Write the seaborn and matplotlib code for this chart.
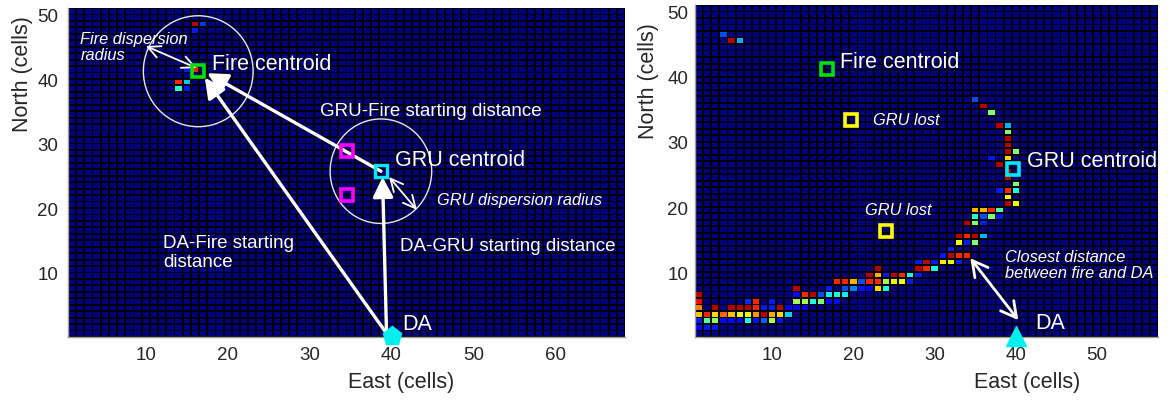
import numpy as np
import pandas as pd
import matplotlib
matplotlib.use("Agg")
import matplotlib.pyplot as plt
import seaborn as sns
from matplotlib.patches import Ellipse

# ---------------- data ----------------
left_n_east, left_n_north = 68, 51
right_n_east, right_n_north = 57, 51

east_ticks_left = [10, 20, 30, 40, 50, 60]
east_ticks_right = [10, 20, 30, 40, 50]
north_ticks = [10, 20, 30, 40, 50]

# burning cells (left panel: starting situation)
left_fire_east  = [16, 17, 16, 15, 16, 14, 15, 14, 15]
left_fire_north = [49, 49, 48, 42, 42, 40, 40, 39, 39]
left_fire_level = [0.95, 0.18, 0.15, 0.15, 0.87, 0.87, 0.32, 0.40, 0.15]

# burning cells (right panel: end of run)
right_fire_east = [
    1, 1, 1, 1, 1, 1, 2, 2, 2, 3, 3, 3, 3, 4, 4, 5, 5, 5, 6, 6, 6,
    7, 7, 7, 7, 8, 8, 8, 8, 9, 9, 9, 10, 10, 10, 10, 11, 11, 11, 12, 12,
    13, 13, 13, 13, 14, 14, 14, 15, 15, 16, 16, 17, 17, 17, 18, 18, 18,
    19, 19, 19, 20, 20, 21, 21, 22, 22, 22, 23, 23, 23, 23, 24, 24, 24,
    25, 25, 26, 26, 27, 27, 28, 28, 28, 29, 29, 30, 30, 31, 31,
    32, 32, 32, 33, 33, 33, 33, 34, 34, 34, 34,
    35, 35, 35, 35, 35, 35, 36, 36, 36, 36, 36, 37, 37, 37, 37,
    38, 38, 38, 38, 38,
    39, 39, 39, 39, 39, 39, 39, 39, 39, 39, 39,
    40, 40, 40, 40,
    4, 5, 6,
]
right_fire_north = [
    7, 6, 5, 4, 3, 2, 4, 3, 2, 5, 4, 3, 2, 4, 3, 5, 4, 3, 5, 4, 3,
    6, 5, 4, 3, 6, 5, 4, 3, 5, 4, 3, 6, 5, 4, 3, 5, 4, 3, 5, 4,
    8, 7, 6, 5, 7, 6, 5, 7, 6, 7, 6, 8, 7, 6, 9, 7, 6,
    9, 8, 7, 9, 8, 9, 8, 10, 9, 8, 11, 10, 9, 8, 10, 9, 8,
    10, 9, 10, 9, 10, 9, 12, 11, 10, 12, 11, 12, 11, 13, 12,
    14, 13, 12, 16, 15, 13, 12, 18, 16, 15, 13,
    37, 20, 19, 18, 16, 15, 36, 20, 19, 18, 16, 35, 28, 20, 19,
    33, 27, 23, 20, 19,
    33, 32, 31, 30, 29, 28, 26, 25, 23, 22, 21,
    29, 24, 23, 21,
    47, 46, 46,
]
right_fire_level = [
    0.95, 0.90, 0.78, 0.70, 0.15, 0.13, 0.87, 0.45, 0.15, 0.95, 0.68, 0.52, 0.15,
    0.80, 0.13, 0.95, 0.70, 0.13, 0.95, 0.63, 0.12,
    0.17, 0.95, 0.63, 0.38, 0.87, 0.87, 0.75, 0.14, 0.15, 0.95, 0.22,
    0.15, 0.15, 0.73, 0.55, 0.95, 0.68, 0.14, 0.13, 0.33,
    0.95, 0.13, 0.55, 0.13, 0.87, 0.55, 0.13, 0.95, 0.38, 0.20, 0.50,
    0.15, 0.36, 0.13, 0.87, 0.38, 0.13,
    0.87, 0.20, 0.36, 0.72, 0.25, 0.20, 0.14, 0.95, 0.87, 0.13,
    0.95, 0.72, 0.87, 0.68, 0.15, 0.55, 0.38,
    0.95, 0.63, 0.87, 0.63, 0.38, 0.15, 0.15, 0.95, 0.15, 0.95, 0.87,
    0.15, 0.38, 0.15, 0.66,
    0.15, 0.95, 0.63, 0.95, 0.63, 0.87, 0.15, 0.95, 0.87, 0.15, 0.87,
    0.20, 0.72, 0.38, 0.50, 0.95, 0.50, 0.95, 0.72, 0.20, 0.15, 0.30,
    0.50, 0.15, 0.87, 0.50,
    0.95, 0.95, 0.15, 0.45, 0.15,
    0.30, 0.50, 0.95, 0.95, 0.95, 0.68, 0.95, 0.95, 0.87, 0.63, 0.95,
    0.50, 0.50, 0.38, 0.63,
    0.20, 0.95, 0.30,
]

# key positions (east, north) in cells
left_fire_centroid = (16.4, 41.7)
left_gru_centroid = (38.7, 26.2)
left_gru_units_east = [34.6, 34.6]
left_gru_units_north = [29.4, 22.5]
left_da = (40.0, 0.6)
left_fire_radius = (6.7, 8.6)   # drawn radius (east, north) in cells
left_gru_radius = (6.2, 8.1)

right_fire_centroid = (16.8, 41.7)
right_gru_centroid = (39.6, 26.3)
right_gru_lost_east = [19.7, 24.0]
right_gru_lost_north = [33.8, 16.8]
right_da = (40.0, 0.6)

# ---------------- style ----------------
sns.set_style("white")
plt.rcParams["font.family"] = ["Liberation Sans", "DejaVu Sans"]
TXT = "#262626"


def grid(n_east, n_north, xs, ys, vs):
    m = np.zeros((n_north, n_east))
    for x, y, v in zip(xs, ys, vs):
        m[n_north - y, x - 1] = v
    return pd.DataFrame(m, index=range(n_north, 0, -1), columns=range(1, n_east + 1))


def make_panel(ax, df, n_north, xticks):
    sns.heatmap(df, ax=ax, cmap="jet", vmin=0, vmax=1, cbar=False,
                linewidths=0.6, linecolor="black")
    mesh = ax.collections[0]
    mesh.set_antialiased(True)
    mesh.set_snap(False)
    ax.set_xticks([v - 0.5 for v in xticks])
    ax.set_xticklabels([str(v) for v in xticks], rotation=0, fontsize=13.5, color=TXT)
    ax.set_yticks([n_north - v + 0.5 for v in north_ticks])
    ax.set_yticklabels([str(v) for v in north_ticks], rotation=0, fontsize=13.5, color=TXT)
    ax.tick_params(length=0)
    ax.set_xlabel("East (cells)", fontsize=15.5, color=TXT)
    ax.set_ylabel("North (cells)", fontsize=15.5, color=TXT)
    for s in ["bottom", "left"]:
        ax.spines[s].set_visible(True)
        ax.spines[s].set_color("#a0a0a0")
        ax.spines[s].set_linewidth(1.0)


fig = plt.figure(figsize=(11.68, 4.05), dpi=100)
W, H = 1168.0, 405.0
ax1 = fig.add_axes([68 / W, (H - 337) / H, 557 / W, 329 / H])
ax2 = fig.add_axes([695 / W, (H - 337) / H, 463 / W, 332 / H])

make_panel(ax1, grid(left_n_east, left_n_north, left_fire_east, left_fire_north, left_fire_level),
           left_n_north, east_ticks_left)
make_panel(ax2, grid(right_n_east, right_n_north, right_fire_east, right_fire_north, right_fire_level),
           right_n_north, east_ticks_right)

ax1.tick_params(axis="y", pad=7)
ax1.tick_params(axis="x", pad=7)
ax2.tick_params(axis="y", pad=5)
ax2.tick_params(axis="x", pad=7)
ax1.xaxis.set_label_coords(0.598, -0.105)
ax2.xaxis.set_label_coords(0.717, -0.105)
ax1.yaxis.set_label_coords(-0.062, 0.80)
ax2.yaxis.set_label_coords(-0.078, 0.77)


def P(n_north):
    return lambda e, n: (e - 0.5, n_north - n + 0.5)


L = P(left_n_north)
R = P(right_n_north)

# ---- left panel overlays ----
ax1.add_patch(Ellipse(L(*left_fire_centroid), 2 * left_fire_radius[0], 2 * left_fire_radius[1],
                      fill=False, ec="#e8e8e8", lw=1.0, zorder=5))
ax1.add_patch(Ellipse(L(*left_gru_centroid), 2 * left_gru_radius[0], 2 * left_gru_radius[1],
                      fill=False, ec="#e8e8e8", lw=1.0, zorder=5))

thick = dict(arrowstyle="-|>,head_length=0.55,head_width=0.28", color="white", lw=2.4,
             mutation_scale=22, shrinkA=0, shrinkB=0)
thin = dict(arrowstyle="<->,head_length=0.45,head_width=0.22", color="white", lw=1.3,
            mutation_scale=20, shrinkA=0, shrinkB=0)

ax1.annotate("", xy=L(17.5, 41.4), xytext=L(*left_gru_centroid), arrowprops=thick, zorder=6)
ax1.annotate("", xy=L(17.2, 40.7), xytext=L(39.7, 0.5), arrowprops=thick, zorder=6)
ax1.annotate("", xy=L(38.9, 25.3), xytext=L(39.4, 0.4), arrowprops=thick, zorder=6)
ax1.annotate("", xy=L(16.2, 42.2), xytext=L(10.0, 45.6), arrowprops=thin, zorder=6)
ax1.annotate("", xy=L(39.7, 25.3), xytext=L(43.1, 20.2), arrowprops=thin, zorder=6)

ax1.plot(*L(*left_fire_centroid), marker="s", ms=9, mfc="none", mec="#00e000", mew=2.6, zorder=7)
ax1.plot(*L(*left_gru_centroid), marker="s", ms=9, mfc="none", mec="#00e8ff", mew=2.4, zorder=7)
for e, n in zip(left_gru_units_east, left_gru_units_north):
    ax1.plot(*L(e, n), marker="s", ms=9, mfc="none", mec="#ff00ff", mew=2.6, zorder=7)
ax1.plot(*L(*left_da), marker="p", ms=14, color="#00f0f0", mec="#00f0f0", zorder=8, clip_on=False)

tw = dict(color="white", va="center", ha="left", zorder=9)
ax1.text(*L(18.1, 42.7), "Fire centroid", fontsize=15.5, **tw)
ax1.text(*L(2.0, 45.4), "Fire dispersion\nradius", fontsize=11.8, style="italic", linespacing=1.05, **tw)
ax1.text(*L(31.3, 35.4), "GRU-Fire starting distance", fontsize=13.5, **tw)
ax1.text(*L(40.4, 27.8), "GRU centroid", fontsize=15.5, **tw)
ax1.text(*L(45.6, 21.6), "GRU dispersion radius", fontsize=11.8, style="italic", **tw)
ax1.text(*L(41.0, 14.5), "DA-GRU starting distance", fontsize=13.5, **tw)
ax1.text(*L(12.1, 13.5), "DA-Fire starting\ndistance", fontsize=13.5, linespacing=1.15, **tw)
ax1.text(*L(41.3, 2.5), "DA", fontsize=15.5, **tw)

# ---- right panel overlays ----
ax2.annotate("", xy=R(40.3, 3.1), xytext=R(34.4, 12.6),
             arrowprops=dict(arrowstyle="<->,head_length=0.55,head_width=0.3", color="white",
                             lw=2.0, mutation_scale=20, shrinkA=0, shrinkB=0), zorder=6)
ax2.plot(*R(*right_fire_centroid), marker="s", ms=9, mfc="none", mec="#00e000", mew=2.6, zorder=7)
ax2.plot(*R(*right_gru_centroid), marker="s", ms=9, mfc="none", mec="#00e8ff", mew=2.6, zorder=7)
for e, n in zip(right_gru_lost_east, right_gru_lost_north):
    ax2.plot(*R(e, n), marker="s", ms=9, mfc="none", mec="#ffff00", mew=2.6, zorder=7)
ax2.plot(*R(*right_da), marker="^", ms=14, color="#00f0f0", mec="#00f0f0", zorder=8, clip_on=False)

ax2.text(*R(18.4, 42.7), "Fire centroid", fontsize=15.5, **tw)
ax2.text(*R(22.4, 33.7), "GRU lost", fontsize=11.8, style="italic", **tw)
ax2.text(*R(21.4, 20.0), "GRU lost", fontsize=11.8, style="italic", **tw)
ax2.text(*R(41.4, 27.5), "GRU centroid", fontsize=15.5, **tw)
ax2.text(*R(38.7, 11.5), "Closest distance\nbetween fire and DA", fontsize=11.8, style="italic",
         linespacing=1.05, **tw)
ax2.text(*R(42.4, 2.65), "DA", fontsize=15.5, **tw)

fig.savefig("out.png", dpi=100, facecolor="white")
